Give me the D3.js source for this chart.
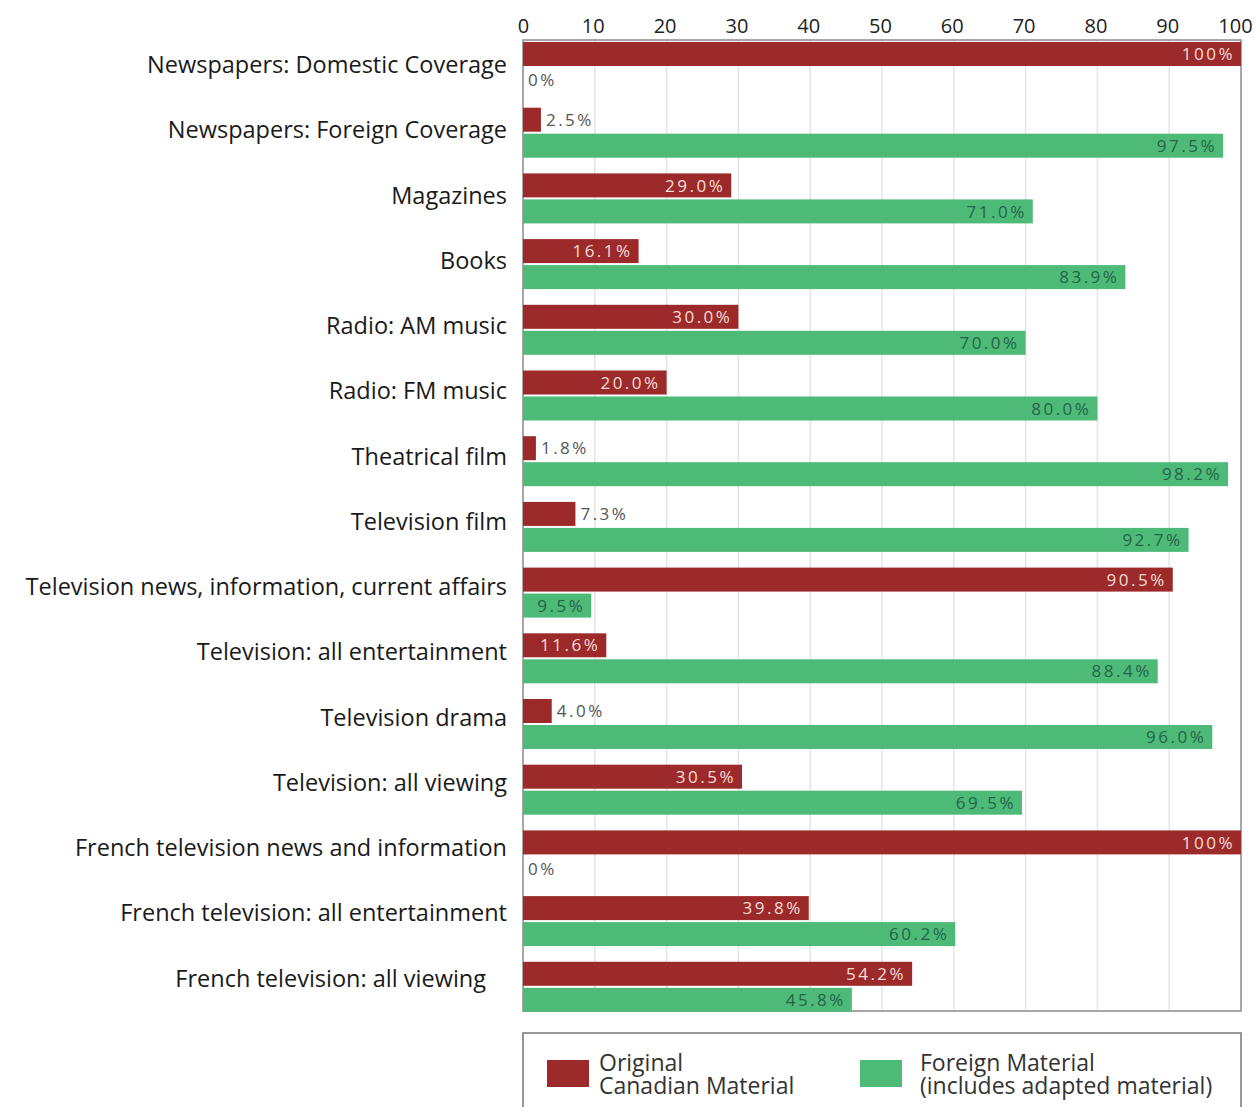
<!DOCTYPE html>
<html>
<head>
<meta charset="utf-8">
<script src="https://cdn.jsdelivr.net/npm/d3@7"></script>
<style>
  body { margin: 0; background: #fff; }
  svg text { font-family: "Open Sans", "Noto Sans", sans-serif; }
</style>
</head>
<body>
<svg id="chart" width="1255" height="1107"></svg>
<script>
var categories = [
  'Newspapers: Domestic Coverage',
  'Newspapers: Foreign Coverage',
  'Magazines',
  'Books',
  'Radio: AM music',
  'Radio: FM music',
  'Theatrical film',
  'Television film',
  'Television news, information, current affairs',
  'Television: all entertainment',
  'Television drama',
  'Television: all viewing',
  'French television news and information',
  'French television: all entertainment',
  'French television: all viewing'
];
var canadian = [100, 2.5, 29.0, 16.1, 30.0, 20.0, 1.8, 7.3, 90.5, 11.6, 4.0, 30.5, 100, 39.8, 54.2];
var foreign = [0, 97.5, 71.0, 83.9, 70.0, 80.0, 98.2, 92.7, 9.5, 88.4, 96.0, 69.5, 0, 60.2, 45.8];
var ticks = [0, 10, 20, 30, 40, 50, 60, 70, 80, 90, 100];

var RED = '#9d2a2a', GREEN = '#4dbb77';

var svg = d3.select('#chart');

var x = d3.scaleLinear().domain([0, 100]).range([523, 1241]);
var y = d3.scaleBand().domain(categories).range([42, 42 + 65.7 * categories.length]);

// plot frame + grid
var plotTop = 40, plotBottom = 1011;
svg.append('g')
  .attr('class', 'grid')
  .selectAll('line')
  .data(ticks.slice(1, -1))
  .enter().append('line')
  .attr('x1', function(d) { return x(d); })
  .attr('x2', function(d) { return x(d); })
  .attr('y1', plotTop)
  .attr('y2', plotBottom)
  .attr('stroke', '#e4e4e4')
  .attr('stroke-width', 1.5);

svg.append('rect')
  .attr('x', x(0)).attr('y', plotTop)
  .attr('width', x(100) - x(0)).attr('height', plotBottom - plotTop)
  .attr('fill', 'none').attr('stroke', '#8a8a8a').attr('stroke-width', 1.5);

// top axis
var axis = d3.axisTop(x).tickValues(ticks).tickSize(0).tickPadding(0);
var ax = svg.append('g').attr('transform', 'translate(0,33)').call(axis);
ax.select('.domain').remove();
ax.selectAll('text')
  .attr('font-size', 20)
  .attr('fill', '#222')
  .attr('dx', function(d) { return d === 100 ? -6 : (d > 0 ? -2 : 0); })
  .style('font-family', '"Open Sans", sans-serif');

// bars
var rows = svg.append('g').attr('class', 'rows')
  .selectAll('g')
  .data(categories)
  .enter().append('g')
  .attr('transform', function(d) { return 'translate(0,' + y(d) + ')'; });

rows.append('text')
  .attr('x', function(d, i) { return i === categories.length - 1 ? 486 : 507; })
  .attr('y', function(d, i) { return 23 - i * 0.45; })
  .attr('dy', '0.35em')
  .attr('text-anchor', 'end')
  .attr('font-size', 23.5)
  .attr('fill', '#1a1a1a')
  .text(function(d) { return d; });

function drawSeries(values, offset, color, inColor) {
  rows.append('rect')
    .attr('x', x(0))
    .attr('y', offset)
    .attr('width', function(d, i) { return x(values[i]) - x(0); })
    .attr('height', 24)
    .attr('fill', color);

  rows.append('text')
    .attr('x', function(d, i) {
      var v = values[i];
      return v >= 8 ? x(v) - 6 : x(v) + 5;
    })
    .attr('y', offset + 12)
    .attr('dy', '0.36em')
    .attr('text-anchor', function(d, i) { return values[i] >= 8 ? 'end' : 'start'; })
    .attr('font-size', 17)
    .attr('letter-spacing', 2.5)
    .attr('fill', function(d, i) { return values[i] >= 8 ? inColor : '#555'; })
    .text(function(d, i) {
      var v = values[i];
      return (v === 0 || v === 100) ? v + '%' : v.toFixed(1) + '%';
    });
}

drawSeries(canadian, 0, RED, '#f6ddd6');
drawSeries(foreign, 26, GREEN, '#25634a');

// legend
var lg = svg.append('g').attr('class', 'legend');
lg.append('rect')
  .attr('x', 523).attr('y', 1033)
  .attr('width', 718).attr('height', 90)
  .attr('fill', 'none').attr('stroke', '#777').attr('stroke-width', 1.5);

var legendItems = [
  { color: RED, sx: 547, tx: 599, lines: ['Original', 'Canadian Material'] },
  { color: GREEN, sx: 860, tx: 920, lines: ['Foreign Material', '(includes adapted material)'] }
];

var li = lg.selectAll('g.item')
  .data(legendItems)
  .enter().append('g').attr('class', 'item');

li.append('rect')
  .attr('x', function(d) { return d.sx; })
  .attr('y', 1060)
  .attr('width', 42).attr('height', 27)
  .attr('fill', function(d) { return d.color; });

li.each(function(d) {
  var g = d3.select(this);
  d.lines.forEach(function(line, k) {
    g.append('text')
      .attr('x', d.tx)
      .attr('y', 1071 + k * 23)
      .attr('font-size', 23)
      .attr('fill', '#333')
      .text(line);
  });
});
</script>
</body>
</html>
